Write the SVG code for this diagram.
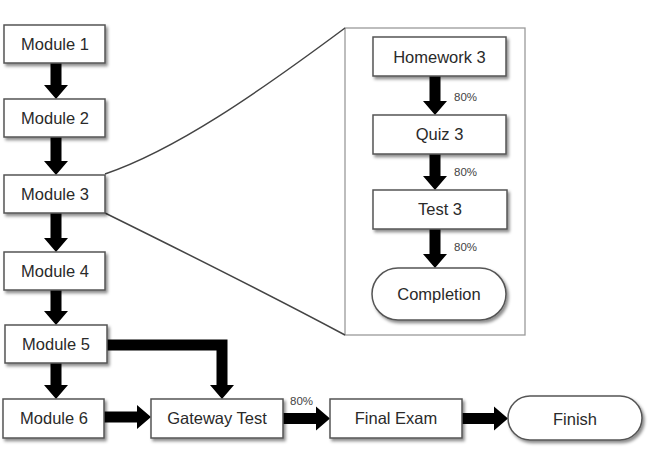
<svg xmlns="http://www.w3.org/2000/svg" width="651" height="464" viewBox="0 0 651 464">
<defs>
<filter id="sh" x="-10%" y="-20%" width="130%" height="150%">
<feDropShadow dx="2" dy="2.5" stdDeviation="1.5" flood-color="#000" flood-opacity="0.45"/>
</filter>
</defs>
<style>
.box{fill:#fff;stroke:#555;stroke-width:1.5;filter:url(#sh)}
.t{font-family:"Liberation Sans",Arial,sans-serif;font-size:16.5px;fill:#2a2a2a;text-anchor:middle;dominant-baseline:central}
.p{font-family:"Liberation Sans",Arial,sans-serif;font-size:11.5px;fill:#444;dominant-baseline:central}
.a{fill:#000}
</style>
<rect width="651" height="464" fill="#fff"/>
<g id="zoom-panel">
<rect x="345" y="28" width="180" height="307" fill="#fff" stroke="#9a9a9a" stroke-width="1.3"/>
<path d="M105,174 C175,150 255,95 345,28" fill="none" stroke="#444" stroke-width="1.5"/>
<path d="M105,213 C180,250 270,295 345,335" fill="none" stroke="#444" stroke-width="1.5"/>
</g>
<g id="connectors">
<polygon class="a" points="50.5,63 61.5,63 61.5,85 68,85 56,99 44,85 50.5,85"/>
<polygon class="a" points="50.5,137 61.5,137 61.5,161 68,161 56,175 44,161 50.5,161"/>
<polygon class="a" points="50.5,213 61.5,213 61.5,238 68,238 56,252 44,238 50.5,238"/>
<polygon class="a" points="50.5,290 61.5,290 61.5,311 68,311 56,325 44,311 50.5,311"/>
<polygon class="a" points="50.5,363 61.5,363 61.5,385 68,385 56,399 44,385 50.5,385"/>
<polygon class="a" points="107,339.5 227.5,339.5 227.5,385 234,385 222,399 210,385 216.5,385 216.5,350.5 107,350.5"/>
<polygon class="a" points="104,411.5 137,411.5 137,405 151,417 137,429 137,422.5 104,422.5"/>
<polygon class="a" points="283,413 316,413 316,406.5 330,418.5 316,430.5 316,424 283,424"/>
<polygon class="a" points="462,413 494,413 494,406.5 508,418.5 494,430.5 494,424 462,424"/>
<polygon class="a" points="429.5,76 440.5,76 440.5,101 447,101 435,115 423,101 429.5,101"/>
<polygon class="a" points="429.5,154 440.5,154 440.5,176 447,176 435,190 423,176 429.5,176"/>
<polygon class="a" points="429.5,229 440.5,229 440.5,254 447,254 435,268 423,254 429.5,254"/>
<text class="p" x="454" y="97">80%</text>
<text class="p" x="454" y="172">80%</text>
<text class="p" x="454" y="247">80%</text>
<text class="p" x="290" y="401">80%</text>
</g>
<g id="module1"><rect class="box" x="4" y="25" width="101" height="38"/><text class="t" x="55" y="44">Module 1</text></g>
<g id="module2"><rect class="box" x="4" y="99" width="101" height="38"/><text class="t" x="55" y="118">Module 2</text></g>
<g id="module3"><rect class="box" x="4" y="175" width="101" height="38"/><text class="t" x="55" y="194">Module 3</text></g>
<g id="module4"><rect class="box" x="4" y="252" width="101" height="38"/><text class="t" x="55" y="271">Module 4</text></g>
<g id="module5"><rect class="box" x="5" y="325" width="102" height="38"/><text class="t" x="56" y="344">Module 5</text></g>
<g id="module6"><rect class="box" x="3" y="399" width="101" height="39"/><text class="t" x="54" y="418">Module 6</text></g>
<g id="gateway"><rect class="box" x="151" y="399" width="132" height="39"/><text class="t" x="217" y="418">Gateway Test</text></g>
<g id="final"><rect class="box" x="330" y="399" width="132" height="39"/><text class="t" x="396" y="418">Final Exam</text></g>
<g id="finish"><rect class="box" x="508" y="396" width="134" height="44" rx="22"/><text class="t" x="575" y="419">Finish</text></g>
<g id="homework3"><rect class="box" x="373" y="37" width="133" height="39"/><text class="t" x="439.5" y="57">Homework 3</text></g>
<g id="quiz3"><rect class="box" x="373" y="115" width="133" height="39"/><text class="t" x="439.5" y="134">Quiz 3</text></g>
<g id="test3"><rect class="box" x="373" y="190" width="134" height="39"/><text class="t" x="440" y="209">Test 3</text></g>
<g id="completion"><rect class="box" x="372" y="268" width="134" height="52" rx="26"/><text class="t" x="439" y="294">Completion</text></g>
</svg>
